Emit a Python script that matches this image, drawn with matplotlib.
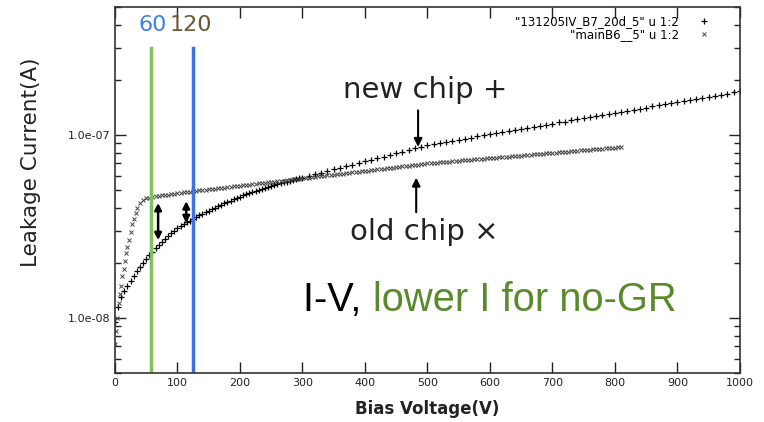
import numpy as np
import matplotlib
matplotlib.use('Agg')
from matplotlib import pyplot as plt
from matplotlib.ticker import FixedLocator, LogLocator, NullFormatter

# new chip (+): bias voltage in V (5 V steps up to 300 V, then 10 V), current in 1e-8 A
new_v = list(range(0, 300, 5)) + list(range(300, 1001, 10))
new_i = [0.95, 1.15, 1.3, 1.4, 1.5, 1.6, 1.7, 1.8, 1.9, 2.0, 2.1, 2.2, 2.3, 2.4,
         2.5, 2.6, 2.7, 2.8, 2.9, 3.0, 3.1, 3.18, 3.25, 3.33, 3.4, 3.48, 3.55,
         3.63, 3.7, 3.78, 3.85, 3.93, 4.0, 4.08, 4.15, 4.23, 4.3, 4.38, 4.45,
         4.53, 4.6, 4.68, 4.75, 4.82, 4.9, 4.95, 5.0, 5.05, 5.1, 5.18, 5.25,
         5.33, 5.4, 5.45, 5.5, 5.55, 5.6, 5.68, 5.75, 5.8,
         5.85, 5.97, 6.09, 6.22, 6.35, 6.48, 6.61, 6.75, 6.89, 7.03, 7.17, 7.32,
         7.47, 7.62, 7.78, 7.94, 8.10, 8.27, 8.44, 8.62, 8.80, 8.92, 9.04, 9.17,
         9.29, 9.42, 9.55, 9.68, 9.81, 9.95, 10.1, 10.2, 10.4, 10.5, 10.6, 10.8,
         10.9, 11.1, 11.2, 11.4, 11.5, 11.7, 11.8, 12.0, 12.2, 12.3, 12.5, 12.7,
         12.8, 13.0, 13.2, 13.4, 13.5, 13.7, 13.9, 14.1, 14.3, 14.5, 14.7, 14.9,
         15.1, 15.3, 15.5, 15.7, 15.9, 16.2, 16.4, 16.6, 16.8, 17.1, 17.3]

# old chip (x): dense at the start, then 5 V steps up to 810 V
old_v = [0, 2, 4, 6, 8, 10, 12, 14, 16, 18, 20, 22, 25, 28, 30, 33, 36, 40, 45,
         50, 55] + list(range(60, 811, 5))
old_i = [0.72, 0.85, 1.0, 1.2, 1.35, 1.5, 1.7, 1.85, 2.05, 2.25, 2.45, 2.65,
         2.95, 3.25, 3.45, 3.75, 4.0, 4.25, 4.4, 4.5, 4.55,
         4.60, 4.62, 4.65, 4.67, 4.70, 4.72, 4.75, 4.77, 4.80, 4.82, 4.85, 4.87,
         4.90, 4.92, 4.95, 4.97, 5.00, 5.02, 5.04, 5.07, 5.09, 5.11, 5.14, 5.16,
         5.18, 5.21, 5.23, 5.25, 5.28, 5.30, 5.33, 5.35, 5.38, 5.40, 5.43, 5.45,
         5.48, 5.50, 5.53, 5.55, 5.58, 5.60, 5.63, 5.66, 5.68, 5.71, 5.74, 5.76,
         5.79, 5.82, 5.85, 5.87, 5.90, 5.93, 5.96, 5.98, 6.01, 6.04, 6.07, 6.10,
         6.13, 6.15, 6.18, 6.21, 6.24, 6.27, 6.30, 6.33, 6.36, 6.39, 6.42, 6.45,
         6.48, 6.51, 6.54, 6.57, 6.60, 6.63, 6.66, 6.70, 6.73, 6.76, 6.79, 6.83,
         6.86, 6.89, 6.92, 6.95, 6.98, 7.00, 7.03, 7.05, 7.07, 7.10, 7.12, 7.15,
         7.17, 7.20, 7.22, 7.25, 7.27, 7.29, 7.31, 7.34, 7.36, 7.39, 7.41, 7.44,
         7.46, 7.49, 7.51, 7.54, 7.56, 7.59, 7.61, 7.64, 7.66, 7.69, 7.71, 7.74,
         7.77, 7.80, 7.82, 7.85, 7.87, 7.90, 7.92, 7.95, 7.98, 8.00, 8.03, 8.06,
         8.08, 8.11, 8.14, 8.16, 8.19, 8.22, 8.25, 8.27, 8.30, 8.33, 8.36, 8.38,
         8.41, 8.44, 8.47, 8.50, 8.53, 8.55, 8.58]

new_label = '"131205IV_B7_20d_5" u 1:2'
old_label = '"mainB6__5" u 1:2'
x_ticks = [0, 100, 200, 300, 400, 500, 600, 700, 800, 900, 1000]
y_ticks = [1e-8, 1e-7]
y_ticklabels = ['1.0e-08', '1.0e-07']

n = min(len(new_v), len(new_i))
m = min(len(old_v), len(old_i))

fig = plt.figure(figsize=(7.64, 4.22), dpi=100)
ax = fig.add_axes([0.1505, 0.1161, 0.818, 0.8673])

ax.plot(new_v[:n], np.array(new_i[:n]) * 1e-8, ls='none', marker='+', ms=5, mew=0.9,
        color='black', label=new_label)
ax.plot(old_v[:m], np.array(old_i[:m]) * 1e-8, ls='none', marker='x', ms=3.2, mew=0.7,
        color='#444444', label=old_label)

ax.set_yscale('log')
ax.set_xlim(0, 1000)
ax.set_ylim(5e-9, 5e-7)

# vertical marker lines
ax.plot([58, 58], [5e-9, 3.0e-7], color='#82c05a', lw=2.5)
ax.plot([125, 125], [5e-9, 3.0e-7], color='#3f72e6', lw=2.5)

ax.text(37, 4.0e-7, '60', color='#3f7fe8', fontsize=16, va='center', ha='left')
ax.text(87, 4.0e-7, '120', color='#6b5535', fontsize=16, va='center', ha='left')

# double arrows between the curves
arr = dict(arrowstyle='<|-|>', color='black', lw=1.8, mutation_scale=10)
ax.annotate('', xy=(69, 4.4e-8), xytext=(69, 2.57e-8), arrowprops=arr)
ax.annotate('', xy=(114, 4.5e-8), xytext=(114, 3.18e-8), arrowprops=arr)

one = dict(arrowstyle='-|>', color='black', lw=1.5, mutation_scale=12)
ax.text(365, 1.76e-7, 'new chip +', fontsize=21, va='center', ha='left', color='#222222')
ax.annotate('', xy=(485, 8.3e-8), xytext=(485, 1.41e-7), arrowprops=one)
ax.text(376, 2.95e-8, 'old chip \u00d7', fontsize=21, va='center', ha='left', color='#222222')
ax.annotate('', xy=(482, 6.05e-8), xytext=(482, 3.65e-8), arrowprops=one)

t1 = ax.text(301, 1.25e-8, 'I-V, ', fontsize=28.7, family='Liberation Sans',
             va='center', ha='left', color='black')
ax.annotate('lower I for no-GR', xy=(1, 0), xycoords=t1, va='bottom', ha='left',
            fontsize=28.7, family='Liberation Sans', color='#5a8a2b')

ax.set_xticks(x_ticks)
ax.yaxis.set_major_locator(FixedLocator(y_ticks))
ax.set_yticklabels(y_ticklabels)
ax.yaxis.set_minor_locator(LogLocator(base=10, subs=np.arange(2, 10)))
ax.yaxis.set_minor_formatter(NullFormatter())
ax.tick_params(which='both', direction='in', top=True, right=True, labelsize=8,
               colors='#222222', width=1)
ax.tick_params(which='major', length=8)
ax.tick_params(which='minor', length=4)
for s in ax.spines.values():
    s.set_linewidth(1.2)
    s.set_color('#333333')

ax.set_xlabel('Bias Voltage(V)', fontsize=12, fontweight='bold', color='#222222')
ax.xaxis.set_label_coords(0.5, -0.075)
ax.set_ylabel('Leakage Current(A)', fontsize=15.5, color='#222222')
ax.yaxis.set_label_coords(-0.118, 0.577)

ax.legend(loc='upper right', bbox_to_anchor=(0.965, 1.0), frameon=False,
          markerfirst=False, fontsize=8.5, borderpad=0.2, labelspacing=0.0,
          handlelength=1.0, handletextpad=1.6)

fig.savefig('out.png', dpi=100)
